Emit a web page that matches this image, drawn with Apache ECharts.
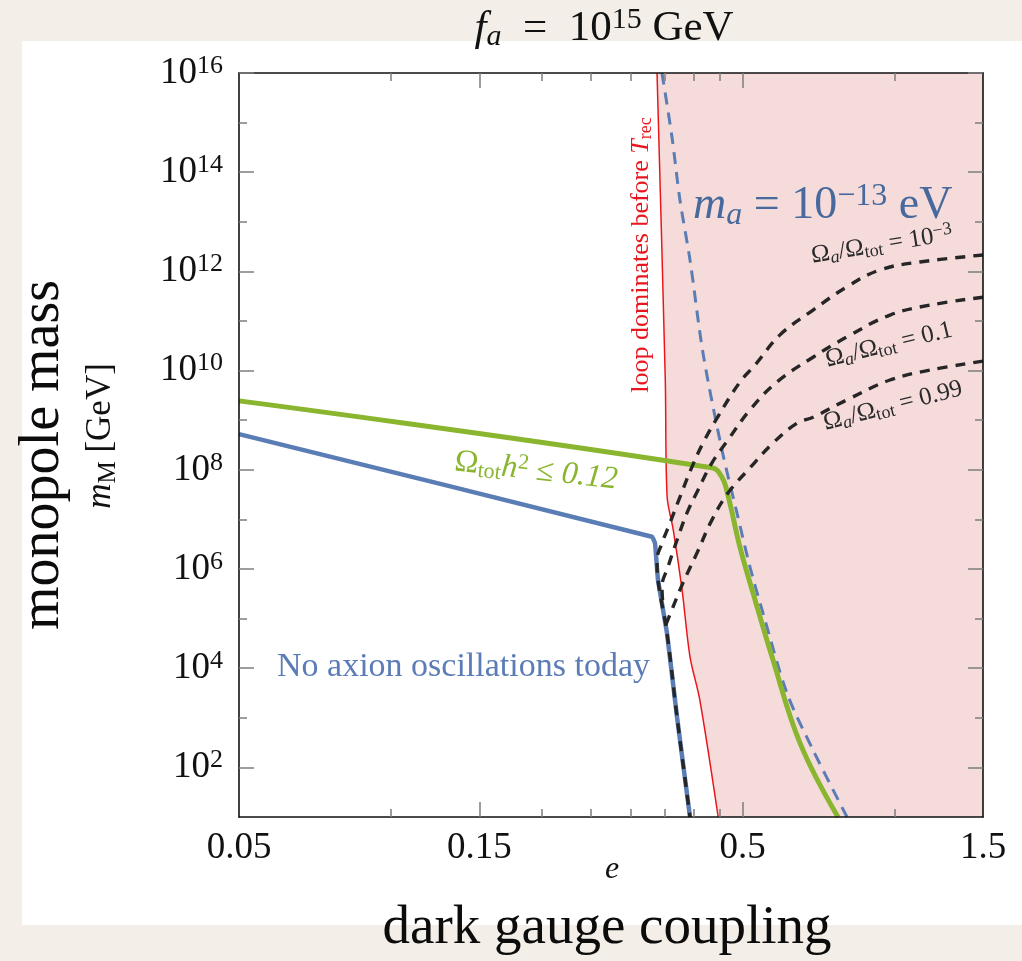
<!DOCTYPE html>
<html>
<head>
<meta charset="utf-8">
<script src="https://cdn.jsdelivr.net/npm/echarts@6/dist/echarts.min.js"></script>
<style>
  html, body { margin: 0; padding: 0; background: #f3efe8; }
  #chart { width: 1022px; height: 961px; }
</style>
</head>
<body>
<div id="chart"></div>
<script>
// x: dark gauge coupling e, y: log10 of the monopole mass m_M in GeV
const E_RANGE = [0.05, 1.5];
const LOGM_RANGE = [1, 16];

// axis ticks
const xLabelTicks = [0.05, 0.15, 0.5, 1.5];
const xMajorTicks = [0.15, 0.5];
const xMinorTicks = [0.1, 0.2, 0.25, 0.3, 0.35, 0.4, 0.45, 1];
const yLabelExps = [2, 4, 6, 8, 10, 12, 14, 16];
const yMinorExps = [3, 5, 7, 9, 11, 13, 15];

// "loop dominates before T_rec" boundary (shaded to the right)
const loopE    = [0.338, 0.351, 0.354, 0.364, 0.379, 0.393, 0.411, 0.447];
const loopLogM = [16, 9.81, 7.45, 6.79, 5.58, 4.23, 3.36, 1];

// Omega_tot h^2 = 0.12
const relicE    = [0.05, 0.4345, 0.4548, 0.4674, 0.4938, 0.5241, 0.5718, 0.6499, 0.773];
const relicLogM = [9.39, 8.04, 7.85, 7.49, 6.44, 5.52, 4.23, 2.49, 1];

// no axion oscillations today
const oscE    = [0.05, 0.3303, 0.3349, 0.3395, 0.3537, 0.3703, 0.393];
const oscLogM = [8.72, 6.65, 6.52, 5.78, 4.71, 3.02, 1];

// m_a = 1e-13 eV
const axionE    = [0.3457, 0.3619, 0.3753, 0.393, 0.4171, 0.4548, 0.4871, 0.517, 0.5487, 0.6121, 0.6897, 0.8055];
const axionLogM = [16, 14.71, 13.44, 12.23, 10.35, 8.40, 7.13, 6.04, 5.11, 3.50, 2.35, 1];

// Omega_a / Omega_tot contours
const frac1e3E    = [1.5, 1.124, 0.9367, 0.8055, 0.6897, 0.593, 0.5289, 0.4938, 0.4446, 0.4171, 0.3966, 0.3753, 0.3587, 0.3457, 0.338, 0.3395, 0.3537, 0.3703, 0.393];
const frac1e3LogM = [12.33, 12.19, 12.03, 11.69, 11.22, 10.72, 10.11, 9.77, 9.04, 8.54, 8.06, 7.45, 6.93, 6.52, 6.18, 5.78, 4.71, 3.02, 1];
const frac01E     = [1.5, 1.177, 0.9804, 0.8055, 0.6897, 0.5848, 0.517, 0.4674, 0.4345, 0.4075, 0.3876, 0.3703, 0.3553, 0.3457, 0.3473];
const frac01LogM  = [11.48, 11.32, 11.12, 10.68, 10.27, 9.77, 9.21, 8.60, 8.14, 7.59, 7.13, 6.58, 6.04, 5.64, 5.27];
const frac099E    = [1.5, 1.177, 0.9804, 0.8055, 0.6897, 0.6409, 0.5744, 0.517, 0.4674, 0.4345, 0.4056, 0.3806, 0.3635, 0.3505];
const frac099LogM = [10.19, 10.01, 9.81, 9.41, 9.06, 8.94, 8.54, 8.04, 7.53, 6.99, 6.32, 5.72, 5.23, 4.83];

const SERIF = '"Liberation Serif", "DejaVu Serif", serif';
const lx = v => Math.log10(v);
const pairs = (es, ms) => es.map((e, i) => [lx(e), ms[i]]);

const TICK_COLOR = '#7d7d7d';
const AXIS_COLOR = '#111';

function xAxisDef(position, ticks, len, extra) {
  return Object.assign({
    type: 'value', position, z: 10,
    min: lx(E_RANGE[0]), max: lx(E_RANGE[1]),
    splitLine: { show: false },
    axisLine: { show: false, onZero: false },
    axisTick: { show: true, inside: true, length: len, customValues: ticks.map(lx),
                lineStyle: { color: TICK_COLOR, width: 1.5 } },
    axisLabel: { show: false }
  }, extra || {});
}
function yAxisDef(position, ticks, len, extra) {
  return Object.assign({
    type: 'value', position, z: 10,
    min: LOGM_RANGE[0], max: LOGM_RANGE[1],
    splitLine: { show: false },
    axisLine: { show: false, onZero: false },
    axisTick: { show: true, inside: true, length: len, customValues: ticks,
                lineStyle: { color: TICK_COLOR, width: 1.5 } },
    axisLabel: { show: false }
  }, extra || {});
}
const axisLineOn = { show: true, onZero: false, lineStyle: { color: AXIS_COLOR, width: 1.6 } };

const xAxes = [
  xAxisDef('bottom', xMajorTicks, 15, {
    axisLine: axisLineOn,
    axisLabel: {
      show: true, customValues: xLabelTicks.map(lx), margin: 13,
      showMinLabel: true, showMaxLabel: true,
      fontFamily: SERIF, fontSize: 37, color: AXIS_COLOR,
      formatter: v => String(Number(Math.pow(10, v).toFixed(2)))
    }
  }),
  xAxisDef('bottom', xMinorTicks, 8),
  xAxisDef('top', xMajorTicks, 15, { axisLine: axisLineOn }),
  xAxisDef('top', xMinorTicks, 8)
];
const yAxes = [
  yAxisDef('left', yLabelExps, 15, {
    axisLine: axisLineOn,
    axisLabel: {
      show: true, customValues: yLabelExps, margin: 16,
      showMinLabel: true, showMaxLabel: true,
      formatter: v => '{b|10}{s|' + Math.round(v) + '}',
      rich: {
        b: { fontFamily: SERIF, fontSize: 37, lineHeight: 40, color: AXIS_COLOR },
        s: { fontFamily: SERIF, fontSize: 26, lineHeight: 20, verticalAlign: 'top', color: AXIS_COLOR }
      }
    }
  }),
  yAxisDef('left', yMinorExps, 8),
  yAxisDef('right', yLabelExps, 15, { axisLine: axisLineOn }),
  yAxisDef('right', yMinorExps, 8)
];

function lineSeries(name, data, color, width, dash, z, smooth) {
  return {
    name, type: 'line', data, z, smooth: smooth || false,
    xAxisIndex: 0, yAxisIndex: 0,
    symbol: 'none', silent: true, clip: true,
    lineStyle: { color, width, type: dash || 'solid', cap: 'butt', join: 'round' }
  };
}

const BLUE = '#5b7db5';
const GREEN = '#8ab52e';
const RED = '#e8171d';
const DARK = '#262626';

const series = [
  {
    name: 'loop region', type: 'custom', z: 1, silent: true,
    xAxisIndex: 0, yAxisIndex: 0,
    data: [[lx(E_RANGE[1]), LOGM_RANGE[1]]],
    renderItem(params, api) {
      const pts = loopE.map((e, i) => api.coord([lx(e), loopLogM[i]]));
      pts.push(api.coord([lx(E_RANGE[1]), LOGM_RANGE[0]]));
      pts.push(api.coord([lx(E_RANGE[1]), LOGM_RANGE[1]]));
      return { type: 'polygon', shape: { points: pts }, style: { fill: '#f6dbdb' } };
    }
  },
  lineSeries('loop', pairs(loopE, loopLogM), RED, 1.5, 'solid', 3, 0.3),
  lineSeries('axion mass', pairs(axionE, axionLogM), BLUE, 3, [12, 8], 4, 0.3),
  lineSeries('relic', pairs(relicE, relicLogM), GREEN, 5, 'solid', 5, 0.4),
  lineSeries('oscillations', pairs(oscE, oscLogM), BLUE, 4.5, 'solid', 6, 0.1),
  lineSeries('frac 1e-3', pairs(frac1e3E, frac1e3LogM), DARK, 3.4, [10, 8], 7, 0.4),
  lineSeries('frac 0.1', pairs(frac01E, frac01LogM), DARK, 3.4, [10, 8], 7, 0.4),
  lineSeries('frac 0.99', pairs(frac099E, frac099LogM), DARK, 3.4, [10, 8], 7, 0.4)
];

// rich text styles shared by the annotations
function richSet(color, size) {
  const sub = Math.round(size * 0.7);
  const base = { fontFamily: SERIF, fill: color };
  return {
    n:    Object.assign({}, base, { fontSize: size, lineHeight: Math.round(size * 1.1) }),
    i:    Object.assign({}, base, { fontSize: size, lineHeight: Math.round(size * 1.1), fontStyle: 'italic' }),
    sub:  Object.assign({}, base, { fontSize: sub, lineHeight: Math.round(sub * 0.8), verticalAlign: 'bottom' }),
    subi: Object.assign({}, base, { fontSize: sub, lineHeight: Math.round(sub * 0.8), verticalAlign: 'bottom', fontStyle: 'italic' }),
    sup:  Object.assign({}, base, { fontSize: sub, lineHeight: Math.round(sub * 0.75), verticalAlign: 'top' })
  };
}
function textEl(x, y, text, color, size, opts) {
  opts = opts || {};
  return {
    type: 'text', x, y, z: 100, silent: true, rotation: opts.rotation || 0,
    style: { text, rich: richSet(color, size), fill: color,
             align: opts.align || 'center', verticalAlign: 'middle' }
  };
}

const ratioText = v => '{n|Ω}{subi|a}{n|/Ω}{sub|tot}{n| = ' + v + '}';
const LABEL_DARK = '#2a2a2a';

const graphic = [
  { type: 'rect', z: 0, silent: true, shape: { x: 22, y: 41, width: 1000, height: 884 }, style: { fill: '#ffffff' } },
  textEl(604, 29, '{i|f}{subi|a}{n|  =  10}{sup|15}{n| GeV}', '#111', 43),
  textEl(693, 206, '{i|m}{subi|a}{n| = 10}{sup|−13}{n| eV}', '#47699d', 46, { align: 'left' }),
  textEl(641, 255, '{n|loop dominates before }{i|T}{sub|rec}', RED, 26, { rotation: Math.PI / 2 }),
  textEl(536, 471, '{n|Ω}{sub|tot}{i|h}{sup|2}{n| ≤ }{i|0.12}', GREEN, 32, { rotation: -0.113 }),
  textEl(277, 667, '{n|No axion oscillations today}', '#5b7cb6', 34, { align: 'left' }),
  textEl(882, 245, ratioText('10') + '{sup|−3}', LABEL_DARK, 25, { rotation: 0.16 }),
  textEl(889, 345, ratioText('0.1'), LABEL_DARK, 25, { rotation: 0.24 }),
  textEl(893, 406, ratioText('0.99'), LABEL_DARK, 25, { rotation: 0.25 }),
  // axis titles
  textEl(612, 870, '{i|e}', '#111', 32),
  textEl(607, 929, '{n|dark gauge coupling}', '#0c0c0c', 55),
  textEl(43, 455, '{n|monopole mass}', '#0c0c0c', 56, { rotation: Math.PI / 2 }),
  textEl(101, 436, '{i|m}{sub|M}{n| [GeV]}', '#111', 35, { rotation: Math.PI / 2 })
];

const chart = echarts.init(document.getElementById('chart'), null, { renderer: 'canvas' });
chart.setOption({
  animation: false,
  backgroundColor: '#f3efe8',
  grid: { left: 239, top: 73, width: 744, height: 744, containLabel: false, outerBoundsMode: 'none' },
  xAxis: xAxes,
  yAxis: yAxes,
  series,
  graphic
});
</script>
</body>
</html>
